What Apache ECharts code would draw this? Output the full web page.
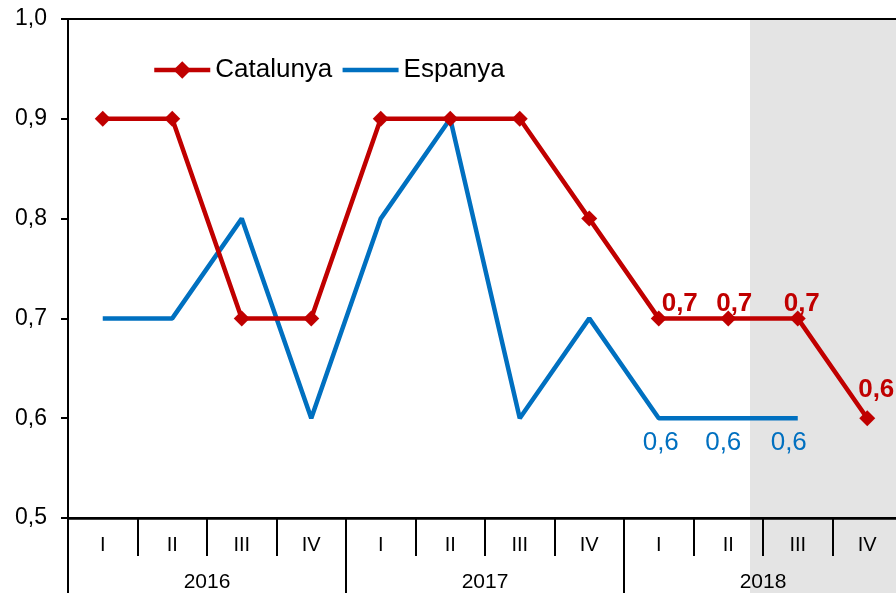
<!DOCTYPE html>
<html>
<head>
<meta charset="utf-8">
<script src="https://cdn.jsdelivr.net/npm/echarts@6/dist/echarts.min.js"></script>
<style>
  html, body { margin: 0; padding: 0; background: #fff; overflow: hidden; }
  /* el grafic original queda tallat a la dreta */
  #main { width: 904px; height: 593px; }
</style>
</head>
<body>
<div id="main"></div>
<script>
// dades
const quarters = ['I', 'II', 'III', 'IV', 'I', 'II', 'III', 'IV', 'I', 'II', 'III', 'IV'];
const years = ['2016', '2017', '2018'];
const catalunya = [0.9, 0.9, 0.7, 0.7, 0.9, 0.9, 0.9, 0.8, 0.7, 0.7, 0.7, 0.6];
const espanya = [0.7, 0.7, 0.8, 0.6, 0.8, 0.9, 0.6, 0.7, 0.6, 0.6, 0.6, null];

// etiquetes nomes als darrers punts
const catLabelFrom = 8;
const espLabelFrom = 8;
const catLabelOffset = [[21, 9], [6, 9], [4, 9], [9, -4]];
const espLabelOffset = [[2, 4], [-5, 4], [-9, 4]];

const fmt = v => v.toFixed(1).replace('.', ',');
const FONT = '"Liberation Sans", Arial, sans-serif';

const chart = echarts.init(document.getElementById('main'), null, { renderer: 'canvas' });

const option = {
  animation: false,
  textStyle: { fontFamily: FONT },
  grid: {
    left: 68, top: 19, width: 834, height: 500,
    show: true, borderColor: '#000', borderWidth: 2, backgroundColor: 'transparent'
  },
  // zona ombrejada (previsio)
  graphic: [{
    type: 'rect', z: -10,
    shape: { x: 750, y: 20, width: 160, height: 580 },
    style: { fill: '#e4e4e4' }
  }],
  legend: {
    left: 147, top: 52,
    itemWidth: 56, itemHeight: 22, itemGap: 8,
    lineStyle: { width: 4.5 },
    textStyle: { fontSize: 26, color: '#000', fontFamily: FONT },
    data: ['Catalunya', { name: 'Espanya', itemStyle: { color: 'rgba(0,0,0,0)' } }]
  },
  xAxis: [{
    type: 'category',
    data: quarters,
    boundaryGap: true,
    axisLine: { lineStyle: { color: '#000', width: 2.5 } },
    axisTick: { show: true, interval: 0, length: 38, lineStyle: { color: '#000', width: 2 } },
    axisLabel: { interval: 0, margin: 17, fontSize: 20, color: '#000', fontFamily: FONT }
  }, {
    type: 'category',
    data: years,
    position: 'bottom',
    boundaryGap: true,
    axisLine: { show: false },
    axisTick: { show: true, interval: 0, length: 76, lineStyle: { color: '#000', width: 2 } },
    axisLabel: { interval: 0, margin: 54, fontSize: 21, color: '#000', fontFamily: FONT }
  }],
  yAxis: {
    type: 'value',
    min: 0.5, max: 1.0, interval: 0.1,
    axisLine: { show: true, lineStyle: { color: '#000', width: 2 } },
    axisTick: { show: true, length: 7, lineStyle: { color: '#000', width: 2 } },
    splitLine: { show: false },
    axisLabel: { margin: 21, fontSize: 23, color: '#000', fontFamily: FONT, formatter: fmt }
  },
  series: [{
    name: 'Catalunya',
    type: 'line',
    data: catalunya.map((v, i) => {
      const item = { value: v };
      if (i >= catLabelFrom) {
        item.label = { show: true, offset: catLabelOffset[i - catLabelFrom] };
      }
      return item;
    }),
    symbol: 'diamond',
    symbolSize: 16,
    lineStyle: { color: '#c00000', width: 4.5 },
    itemStyle: { color: '#c00000' },
    label: {
      show: false, position: 'top', distance: 3,
      fontSize: 26, fontWeight: 'bold', color: '#c00000', fontFamily: FONT,
      formatter: p => fmt(p.value)
    },
    z: 4
  }, {
    name: 'Espanya',
    type: 'line',
    data: espanya.map((v, i) => {
      const item = { value: v };
      if (i >= espLabelFrom && v !== null) {
        item.label = { show: true, offset: espLabelOffset[i - espLabelFrom] };
      }
      return item;
    }),
    symbol: 'circle',
    symbolSize: 0.1,
    connectNulls: false,
    lineStyle: { color: '#0070c0', width: 4.5 },
    itemStyle: { color: '#0070c0' },
    label: {
      show: false, position: 'bottom', distance: 8,
      fontSize: 26, color: '#0070c0', fontFamily: FONT,
      formatter: p => fmt(p.value)
    },
    z: 3
  }]
};

chart.setOption(option);
</script>
</body>
</html>
